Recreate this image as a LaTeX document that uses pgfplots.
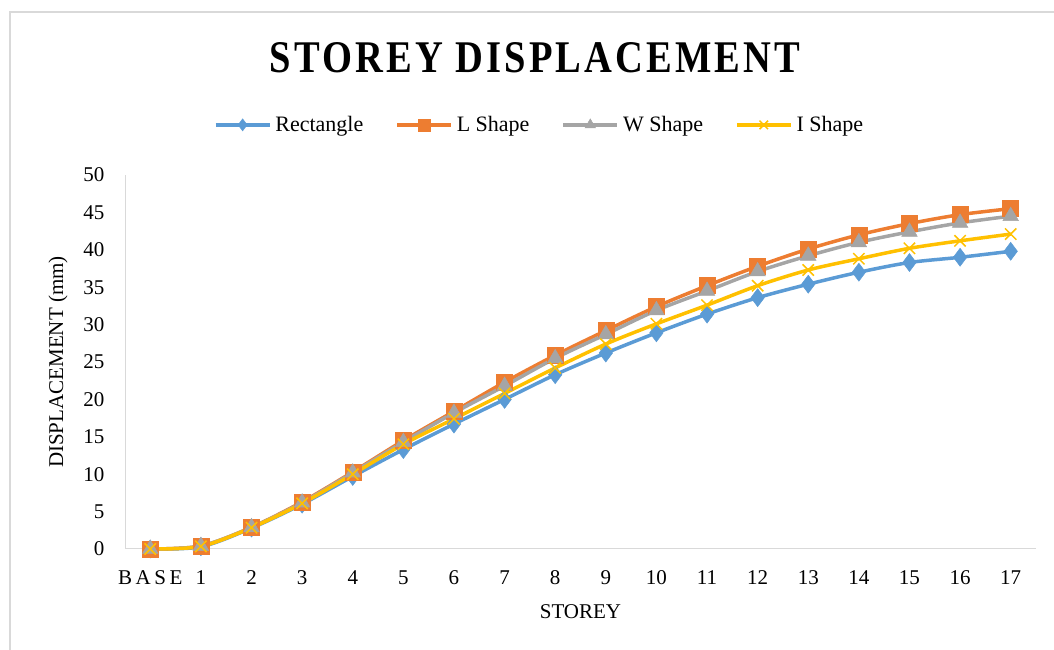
\documentclass[border=0pt]{standalone}
\usepackage{fontspec}
\setmainfont{Liberation Serif}
\usepackage{graphicx}
\usepackage{pgfplots}
\pgfplotsset{compat=1.18}
\definecolor{cRect}{HTML}{5B9BD5}
\definecolor{cL}{HTML}{ED7D31}
\definecolor{cW}{HTML}{A5A5A5}
\definecolor{cI}{HTML}{FFC000}
\definecolor{frame}{HTML}{D9D9D9}
\pgfplotstableread{
x rect lsh wsh ish
0 0 0 0 0
1 0.3 0.4 0.4 0.35
2 2.8 2.9 2.9 2.85
3 6.0 6.3 6.2 6.1
4 9.7 10.3 10.2 10.0
5 13.3 14.5 14.3 14.0
6 16.7 18.4 18.2 17.4
7 20.0 22.3 21.8 20.8
8 23.3 25.9 25.5 24.2
9 26.2 29.2 28.7 27.4
10 28.9 32.4 31.9 30.1
11 31.4 35.2 34.5 32.6
12 33.6 37.8 37.1 35.2
13 35.4 40.1 39.2 37.3
14 37.0 42.0 41.0 38.8
15 38.3 43.5 42.4 40.2
16 39.0 44.7 43.6 41.2
17 39.8 45.5 44.5 42.1
}\datatable
\begin{document}
\begin{tikzpicture}
\useasboundingbox (0,0) rectangle (1054pt,650pt);
\draw[color=frame, line width=1.5pt] (10pt,0) -- (10pt,638pt) -- (1054pt,638pt);
\node[inner sep=0pt] at (535pt,592pt) {\resizebox{530pt}{30pt}{\bfseries\addfontfeatures{LetterSpace=8}STOREY DISPLACEMENT}};
\begin{axis}[
  at={(125pt,101pt)}, anchor=south west, scale only axis,
  width=911pt, height=374pt,
  xmin=-0.5, xmax=17.5, ymin=0, ymax=50,
  ytick={0,5,...,50},
  xtick={0,...,17},
  xticklabels={B\,A\,S\,E,1,2,3,4,5,6,7,8,9,10,11,12,13,14,15,16,17},
  axis lines=left,
  axis line style={-, color=frame, line width=1pt},
  major tick length=0pt,
  tick style={draw=none},
  /pgf/number format/assume math mode=true,
  tick label style={font=\fontsize{21}{24}\selectfont},
  yticklabel style={xshift=-17pt},
  xticklabel style={yshift=-18pt},
  xlabel={STOREY},
  ylabel={DISPLACEMENT (mm)},
  every axis y label/.style={at={(axis description cs:-0.0735,0.5)}, rotate=90, anchor=center, font=\fontsize{21}{24}\selectfont},
  every axis x label/.style={at={(axis description cs:0.5,-0.168)}, anchor=center, font=\fontsize{21}{24}\selectfont},
  legend columns=4,
  legend style={at={(0.455,1.134)}, anchor=center, draw=none, fill=none,
    font=\fontsize{22}{24}\selectfont,
    /tikz/every odd column/.append style={column sep=2pt},
    /tikz/every even column/.append style={column sep=30pt}},
  legend image code/.code={\draw[mark repeat=2, mark phase=2, #1] plot coordinates {(0pt,0pt) (27pt,0pt) (54pt,0pt)};},
  legend image post style={mark size=6pt},
  clip=false,
]
\addplot[color=cRect, line width=3.5pt, smooth, mark=diamond*, mark size=9pt, mark options={fill=cRect, draw=cRect, line width=0.5pt}] table[x=x, y=rect] {\datatable};
\addlegendentry{Rectangle}
\addplot[color=cL, line width=3.5pt, smooth, mark=square*, mark size=8pt, mark options={fill=cL, draw=cL, line width=0.5pt}] table[x=x, y=lsh] {\datatable};
\addlegendentry{L Shape}
\addplot[color=cW, line width=3.5pt, smooth, mark=triangle*, mark size=9pt, mark options={fill=cW, draw=cW, line width=0.5pt}] table[x=x, y=wsh] {\datatable};
\addlegendentry{W Shape}
\addplot[color=cI, line width=3.5pt, smooth, mark=x, mark size=8pt, mark options={draw=cI, line width=1.5pt}] table[x=x, y=ish] {\datatable};
\addlegendentry{I Shape}
\end{axis}
\end{tikzpicture}
\end{document}
